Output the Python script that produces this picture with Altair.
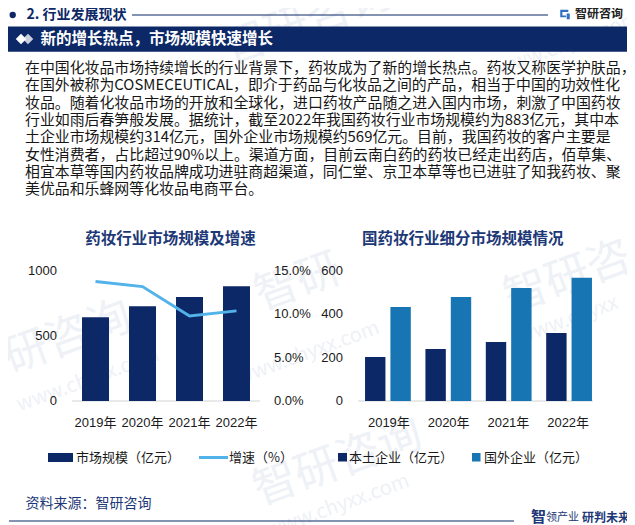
import altair as alt
import pandas as pd

# ---------------- data ----------------
years = ["2019年", "2020年", "2021年", "2022年"]
market_size = [644, 729, 800, 883]          # 亿元
growth = [13.8, 13.2, 9.8, 10.4]            # %
local_size = [203, 240, 272, 314]           # 本土企业 亿元
foreign_size = [434, 480, 521, 569]         # 国外企业 亿元
series_names = ["本土企业（亿元）", "国外企业（亿元）"]
left_ticks = [0, 500, 1000]
right_ticks = [0.0, 5.0, 10.0, 15.0]
seg_ticks = [0, 200, 400, 600]

paragraph_lines = [
    "在中国化妆品市场持续增长的行业背景下，药妆成为了新的增长热点。药妆又称医学护肤品，",
    "在国外被称为COSMECEUTICAL，即介于药品与化妆品之间的产品，相当于中国的功效性化",
    "妆品。随着化妆品市场的开放和全球化，进口药妆产品随之进入国内市场，刺激了中国药妆",
    "行业如雨后春笋般发展。据统计，截至2022年我国药妆行业市场规模约为883亿元，其中本",
    "土企业市场规模约314亿元，国外企业市场规模约569亿元。目前，我国药妆的客户主要是",
    "女性消费者，占比超过90%以上。渠道方面，目前云南白药的药妆已经走出药店，佰草集、",
    "相宜本草等国内药妆品牌成功进驻商超渠道，同仁堂、京卫本草等也已进驻了知我药妆、聚",
    "美优品和乐蜂网等化妆品电商平台。",
]

NAVY = "#0c2866"
TITLE_NAVY = "#1d3876"
LINE_BLUE = "#52b2ea"
BAR_BLUE = "#1775b3"
FONT = "Noto Sans CJK SC"
NUMFONT = "Liberation Sans, Noto Sans CJK SC"

one = pd.DataFrame({"k": [0]})


def txt(s, x, y, size=13, color="#1a1a1a", weight="normal", align="left",
        font=FONT, angle=0, baseline="middle", **extra):
    kw = dict(text=s, fontSize=size, color=color, fontWeight=weight,
              align=align, baseline=baseline, font=font)
    if angle:
        kw["angle"] = angle
    kw.update(extra)
    return alt.Chart(one).mark_text(**kw).encode(x=alt.value(x), y=alt.value(y))


def rect(x, x2, y, y2, color):
    return alt.Chart(one).mark_rect(color=color).encode(
        x=alt.value(x), x2=alt.value(x2), y=alt.value(y), y2=alt.value(y2))


def rule(x, x2, y, y2, color, w=1):
    return alt.Chart(one).mark_rule(color=color, strokeWidth=w).encode(
        x=alt.value(x), x2=alt.value(x2), y=alt.value(y), y2=alt.value(y2))


layers = []

# ---------------- watermarks ----------------
WM = "#eef1f6"
for s, x, y, sz in [("智研咨询", 300, 14, 44), ("www.chyxx.com", 560, 36, 20),
                    ("研咨询", 60, 330, 44), ("www.chyxx.com", 80, 372, 20),
                    ("智研", 290, 275, 44), ("www.chyxx.com", 300, 345, 20),
                    ("智研咨", 560, 270, 44), ("www.chyxx", 560, 312, 20),
                    ("智研咨询", 330, 455, 44), ("www.chyxx.com", 330, 498, 20)]:
    layers.append(txt(s, x, y, size=sz, color=WM, align="center", angle=340,
                      font="Noto Sans CJK SC"))

# ---------------- header ----------------
layers.append(alt.Chart(one).mark_point(filled=True, color=NAVY, size=40, opacity=1)
              .encode(x=alt.value(4.7), y=alt.value(7)))
layers.append(txt("2. 行业发展现状", 18.5, 7, size=14, color=NAVY, weight="bold"))
layers.append(rule(124, 540, 7, 7, NAVY, 1))
layers.append(alt.Chart(one).mark_point(
    filled=True, color="#2f6fc4", opacity=1, size=90,
    shape="M-1,-1H0.7V-0.55H-0.55V0.2H0.2V0.6H-1Z M0.35,-0.2H1V1H0.35Z")
    .encode(x=alt.value(557), y=alt.value(6.5)))
layers.append(txt("智研咨询", 567, 6, size=12, color="#222222", weight="bold"))

layers.append(rect(0, 619, 18.5, 43.7, NAVY))
layers.append(alt.Chart(one).mark_point(filled=True, color="#c9cfdc", shape="diamond",
                                        size=110, opacity=1)
              .encode(x=alt.value(20), y=alt.value(31)))
layers.append(alt.Chart(one).mark_point(filled=True, color="white", shape="diamond",
                                        size=110, opacity=1)
              .encode(x=alt.value(13), y=alt.value(31)))
layers.append(txt("新的增长热点，市场规模快速增长", 32.5, 31, size=15.5,
                  color="white", weight="bold"))

# ---------------- paragraph ----------------
layers.append(txt("\n".join(paragraph_lines), 17, 61, size=14.9, color="#161616",
                  lineBreak="\n", lineHeight=17.3))

# ---------------- left chart ----------------
left_df = pd.DataFrame({"year": years, "size": market_size, "growth": growth})
xl_scale = alt.Scale(domain=years, range=[64, 252], paddingInner=0.4255, paddingOuter=0.213)
yl_scale = alt.Scale(domain=[0, 1000], range=[393, 263], nice=False, zero=True)
yg_scale = alt.Scale(domain=[0, 15], range=[393, 263], nice=False, zero=True)

layers.append(txt("药妆行业市场规模及增速", 162.5, 231, size=15.5, color=TITLE_NAVY,
                  weight="bold", align="center"))
layers.append(rule(64, 252, 393, 393, "#d4d4d4", 1))
layers.append(alt.Chart(left_df).mark_bar(color=NAVY).encode(
    x=alt.X("year:N", scale=xl_scale, axis=None),
    y=alt.Y("size:Q", scale=yl_scale, axis=None)))
layers.append(alt.Chart(left_df).mark_line(color=LINE_BLUE, strokeWidth=3).encode(
    x=alt.X("year:N", scale=xl_scale, axis=None),
    y=alt.Y("growth:Q", scale=yg_scale, axis=None)))
layers.append(alt.Chart(left_df).mark_text(font=NUMFONT, fontSize=13, color="#1a1a1a",
                                           baseline="middle").encode(
    x=alt.X("year:N", scale=xl_scale, axis=None), y=alt.value(415), text="year:N"))

lt_df = pd.DataFrame({"v": left_ticks, "lab": [str(v) for v in left_ticks]})
layers.append(alt.Chart(lt_df).mark_text(font=NUMFONT, fontSize=13, color="#1a1a1a",
                                         align="right", baseline="middle").encode(
    x=alt.value(49), y=alt.Y("v:Q", scale=yl_scale, axis=None), text="lab:N"))
rt_df = pd.DataFrame({"v": right_ticks, "lab": [f"{v:.1f}%" for v in right_ticks]})
layers.append(alt.Chart(rt_df).mark_text(font=NUMFONT, fontSize=13, color="#1a1a1a",
                                         align="left", baseline="middle").encode(
    x=alt.value(266), y=alt.Y("v:Q", scale=yg_scale, axis=None), text="lab:N"))

# ---------------- right chart ----------------
seg_df = pd.DataFrame({
    "year": years * 2,
    "series": [series_names[0]] * 4 + [series_names[1]] * 4,
    "value": local_size + foreign_size,
})
xr_scale = alt.Scale(domain=years, range=[351, 590], paddingInner=0.242, paddingOuter=0.1)
yr_scale = alt.Scale(domain=[0, 600], range=[393, 263], nice=False, zero=True)

layers.append(txt("国药妆行业细分市场规模情况", 354, 231, size=15.5, color=TITLE_NAVY,
                  weight="bold"))
layers.append(rule(350, 585, 393, 393, "#d4d4d4", 1))
layers.append(alt.Chart(seg_df).mark_bar().encode(
    x=alt.X("year:N", scale=xr_scale, axis=None),
    xOffset=alt.XOffset("series:N", scale=alt.Scale(domain=series_names,
                                                    paddingInner=0.196, paddingOuter=0)),
    y=alt.Y("value:Q", scale=yr_scale, axis=None),
    color=alt.Color("series:N", scale=alt.Scale(domain=series_names,
                                                range=[NAVY, BAR_BLUE]), legend=None)))
layers.append(alt.Chart(left_df).mark_text(font=NUMFONT, fontSize=13, color="#1a1a1a",
                                           baseline="middle").encode(
    x=alt.X("year:N", scale=xr_scale, axis=None), y=alt.value(415), text="year:N"))
st_df = pd.DataFrame({"v": seg_ticks, "lab": [str(v) for v in seg_ticks]})
layers.append(alt.Chart(st_df).mark_text(font=NUMFONT, fontSize=13, color="#1a1a1a",
                                         align="right", baseline="middle").encode(
    x=alt.value(335), y=alt.Y("v:Q", scale=yr_scale, axis=None), text="lab:N"))

# ---------------- legend ----------------
layers.append(rect(40, 65, 445, 454, NAVY))
layers.append(txt("市场规模（亿元）", 68, 449.5, size=13))
layers.append(rule(191, 220, 449.5, 449.5, LINE_BLUE, 3))
layers.append(txt("增速（%）", 221, 449.5, size=13))
layers.append(rect(330, 339, 445, 453.5, NAVY))
layers.append(txt(series_names[0], 341, 449.5, size=13))
layers.append(rect(464, 472.5, 445, 453.5, BAR_BLUE))
layers.append(txt(series_names[1], 476, 449.5, size=13))

# ---------------- footer ----------------
layers.append(txt("资料来源：智研咨询", 17.5, 496, size=14, color=TITLE_NAVY))
layers.append(rule(1, 506, 513, 513, NAVY, 1.2))
layers.append(txt("智", 523, 509, size=15, color=TITLE_NAVY, weight="bold"))
layers.append(txt("领产业", 538, 510, size=11, color=TITLE_NAVY))
layers.append(txt("研判未来", 574, 509.5, size=12, color=TITLE_NAVY, weight="bold"))

chart = (
    alt.layer(*layers)
    .resolve_scale(x="independent", y="independent", color="independent",
                   xOffset="independent")
    .properties(width=619, height=517, padding=0, background="white",
                autosize=alt.AutoSizeParams(type="none"))
    .configure_view(stroke=None)
)

chart.save("out.html", embed_options={"renderer": "svg", "actions": False})
